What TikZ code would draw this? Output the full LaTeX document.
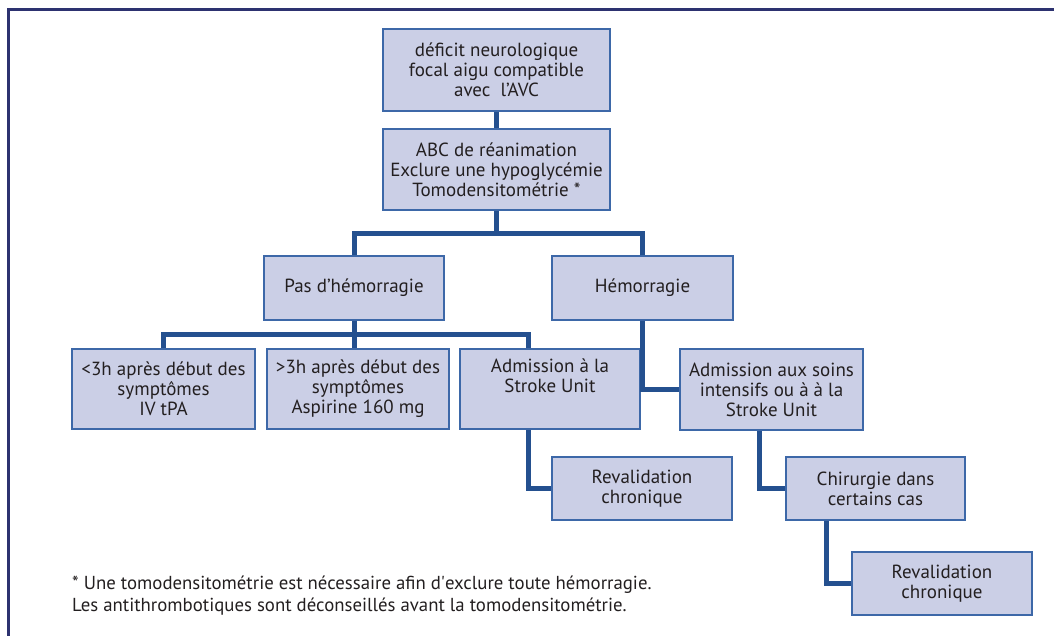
\documentclass[tikz,border=0pt]{standalone}
\usepackage{fontspec}
\setmainfont{PT Sans}
\usepackage{tikz}
\usetikzlibrary{positioning,calc}
\definecolor{boxFill}{HTML}{CBCFE6}
\definecolor{boxLine}{HTML}{3D68A8}
\definecolor{linkBlue}{HTML}{24508F}
\definecolor{frameNavy}{HTML}{2D3270}
\definecolor{inkGray}{HTML}{231F20}

\begin{document}
\begin{tikzpicture}[x=1pt,y=-1pt,
    box/.style={draw=boxLine, fill=boxFill, line width=1.6pt, align=center,
      text=inkGray, inner sep=0pt, font=\fontsize{19}{20}\selectfont},
    link/.style={draw=linkBlue, line width=5pt}]
  \useasboundingbox (0,0) rectangle (1054,636);

  % cropped frame
  \draw[frameNavy, line width=3pt] (8,636) -- (8,10) -- (1054,10);

  % boxes
  \node[box, minimum width=227, minimum height=82] (deficit) at (496.5,70)
    {déficit neurologique\\focal aigu compatible\\avec\ \ l’AVC};
  \node[box, minimum width=227, minimum height=81] (abc) at (496.5,169.5)
    {ABC de réanimation\\Exclure une hypoglycémie\\Tomodensitométrie *};

  \node[box, minimum width=180, minimum height=64] (pas) at (354,288) {Pas d’hémorragie};
  \node[box, minimum width=181, minimum height=64] (hem) at (642.5,288) {Hémorragie};

  \node[box, minimum width=183, minimum height=80] (lt3) at (163.5,389)
    {<3h après début des\\symptômes\\IV tPA};
  \node[box, minimum width=182, minimum height=80] (gt3) at (358,389)
    {>3h après début des\\symptômes\\Aspirine 160 mg};
  \node[box, minimum width=180, minimum height=80] (adm) at (550,389)
    {Admission à la\\Stroke Unit\\\strut};
  \node[box, minimum width=183, minimum height=81] (icu) at (771.5,389.5)
    {Admission aux soins\\intensifs ou à à la\\Stroke Unit};

  \node[box, minimum width=180, minimum height=63] (revA) at (642,488.5)
    {Revalidation\\chronique};
  \node[box, minimum width=179, minimum height=63] (chir) at (875.5,488.5)
    {Chirurgie dans\\certains cas};
  \node[box, minimum width=180, minimum height=63] (revB) at (942,583.5)
    {Revalidation\\chronique};

  % footnote
  \node[anchor=west, align=left, text=inkGray, inner sep=0pt,
    font=\fontsize{18.8}{22}\selectfont] (note) at (72,596)
    {* Une tomodensitométrie est nécessaire afin d\textquotesingle exclure toute hémorragie.\\
     Les antithrombotiques sont déconseillés avant la tomodensitométrie.};

  % connectors
  \coordinate (split1) at (496.5,234);
  \coordinate (split2) at (354,334);
  \draw[link] (deficit.south) -- (abc.north);
  \draw[link] (abc.south) -- (split1);
  \draw[link] (pas.north) |- (split1) -| (hem.north);
  \draw[link] (pas.south) -- (pas.south |- gt3.north);
  \draw[link] (lt3.north) |- (split2) -| ($(adm.north)+(-22,0)$);
  \draw[link] (hem.south) |- (icu.west);
  \draw[link] ($(adm.south)+(-22,0)$) |- (revA.west);
  \draw[link] ($(icu.south)+(-12.5,0)$) |- (chir.west);
  \draw[link] ($(chir.south)+(-49.5,0)$) |- (revB.west);
\end{tikzpicture}
\end{document}
